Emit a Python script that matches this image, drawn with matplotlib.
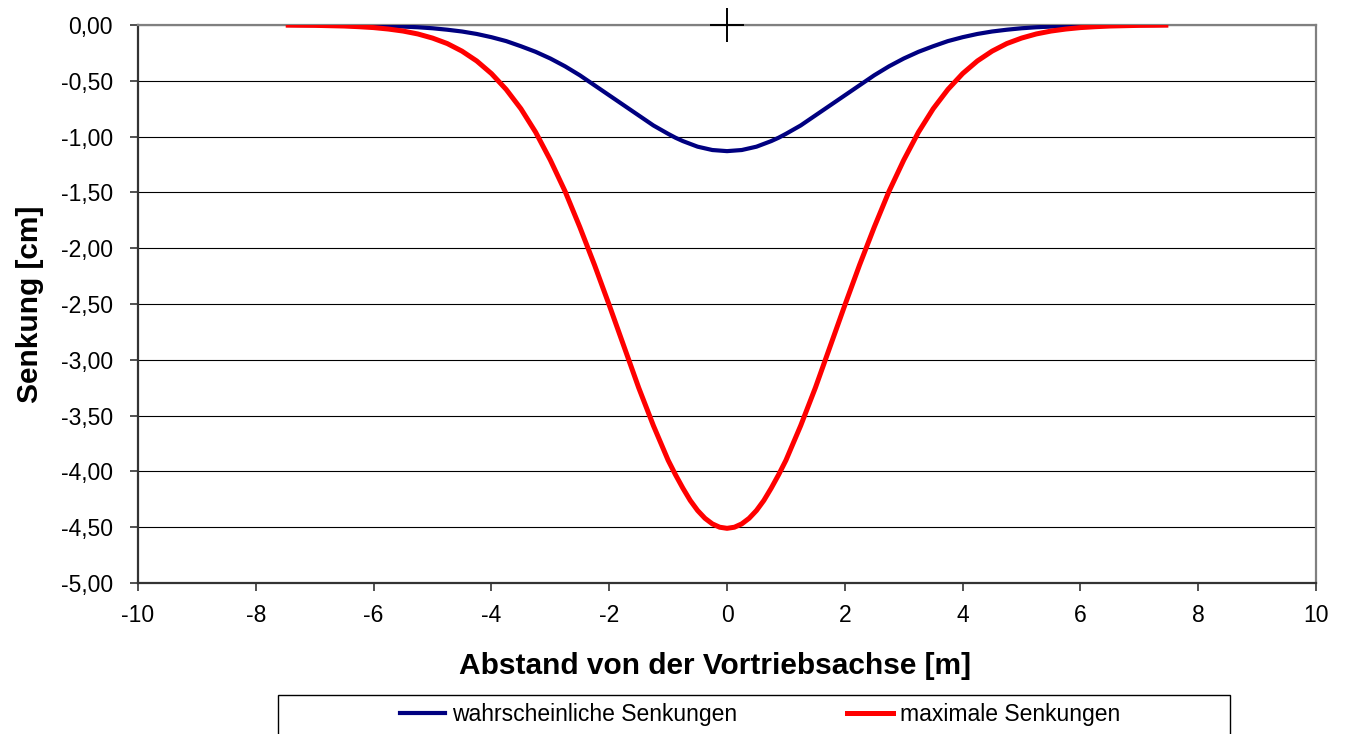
import matplotlib
matplotlib.use("Agg")
import matplotlib.pyplot as plt
from matplotlib.ticker import FuncFormatter
from matplotlib.patches import Rectangle

plt.rcParams['font.family'] = ['Liberation Sans', 'DejaVu Sans']
plt.rcParams['axes.unicode_minus'] = False

# distance from the tunnel axis [m]
abstand = [-7.45, -7.25, -7.0, -6.75, -6.5, -6.25, -6.0, -5.75, -5.5, -5.25,
           -5.0, -4.75, -4.5, -4.25, -4.0, -3.75, -3.5, -3.25, -3.0, -2.75,
           -2.5, -2.25, -2.0, -1.75, -1.5, -1.25, -1.0, -0.875, -0.75, -0.625,
           -0.5, -0.375, -0.25, -0.125, 0.0, 0.125, 0.25, 0.375, 0.5, 0.625,
           0.75, 0.875, 1.0, 1.25, 1.5, 1.75, 2.0, 2.25,
           2.5, 2.75, 3.0, 3.25, 3.5, 3.75, 4.0, 4.25, 4.5, 4.75,
           5.0, 5.25, 5.5, 5.75, 6.0, 6.25, 6.5, 6.75, 7.0, 7.25, 7.45]

# probable settlements [cm]
wahrscheinlich = [0.0, -0.0005, -0.001, -0.0015, -0.002, -0.004, -0.006, -0.009, -0.014, -0.020,
                  -0.029, -0.042, -0.058, -0.080, -0.109, -0.144, -0.19, -0.24, -0.30, -0.37,
                  -0.45, -0.54, -0.63, -0.72, -0.81, -0.90, -0.975, -1.01, -1.04, -1.065,
                  -1.09, -1.105, -1.12, -1.125, -1.13, -1.125, -1.12, -1.105, -1.09, -1.065,
                  -1.04, -1.01, -0.975, -0.90, -0.81, -0.72, -0.63, -0.54,
                  -0.45, -0.37, -0.30, -0.24, -0.19, -0.144, -0.109, -0.080, -0.058, -0.042,
                  -0.029, -0.020, -0.014, -0.009, -0.006, -0.004, -0.002, -0.0015, -0.001, -0.0005, 0.0]

# maximum settlements [cm]
maximal = [-0.001, -0.002, -0.003, -0.006, -0.009, -0.015, -0.023, -0.036, -0.054, -0.080,
           -0.117, -0.166, -0.234, -0.322, -0.435, -0.577, -0.75, -0.96, -1.21, -1.49,
           -1.81, -2.15, -2.51, -2.88, -3.25, -3.59, -3.90, -4.03, -4.15, -4.26,
           -4.35, -4.42, -4.47, -4.50, -4.51, -4.50, -4.47, -4.42, -4.35, -4.26,
           -4.15, -4.03, -3.90, -3.59, -3.25, -2.88, -2.51, -2.15,
           -1.81, -1.49, -1.21, -0.96, -0.75, -0.577, -0.435, -0.322, -0.234, -0.166,
           -0.117, -0.080, -0.054, -0.036, -0.023, -0.015, -0.009, -0.006, -0.003, -0.002, -0.001]

fig = plt.figure(figsize=(13.48, 7.34), dpi=100)
ax = fig.add_axes([0.1024, 0.2057, 0.8739, 0.7602])

ax.plot(abstand, wahrscheinlich, color='#000080', lw=3.0, label='wahrscheinliche Senkungen',
        solid_joinstyle='round', zorder=3)
ax.plot(abstand, maximal, color='#FF0000', lw=3.6, label='maximale Senkungen',
        solid_joinstyle='round', zorder=4)
# axis cross marker at the origin
ax.plot([0], [0], marker='+', ms=24, mew=1.4, color='black', ls='none', zorder=5, clip_on=False)

ax.set_xlim(-10, 10)
ax.set_ylim(-5, 0)
ax.set_xticks(range(-10, 11, 2))
ax.set_yticks([-5 + 0.5 * k for k in range(11)])
ax.yaxis.set_major_formatter(FuncFormatter(lambda v, p: f"{v:.2f}".replace('.', ',')))
ax.grid(axis='y', color='black', lw=0.8)
ax.set_axisbelow(True)

for s in ['top', 'right']:
    ax.spines[s].set_color('#808080')
    ax.spines[s].set_linewidth(1.6)
for s in ['left', 'bottom']:
    ax.spines[s].set_color('#333333')
    ax.spines[s].set_linewidth(1.6)
ax.tick_params(axis='both', direction='out', length=6, width=1.2, color='#333333',
               labelsize=16.5)
ax.tick_params(axis='y', pad=12)
ax.tick_params(axis='x', pad=9)

ax.set_xlabel('Abstand von der Vortriebsachse [m]', fontsize=21.5, fontweight='bold')
ax.xaxis.set_label_coords(0.49, -0.123)
ax.set_ylabel('Senkung [cm]', fontsize=21.5, fontweight='bold', labelpad=12)

# legend frame (cut off by the figure edge like in the original)
fig.patches.append(Rectangle((278 / 1348, -0.02), 952 / 1348, 0.0731,
                             transform=fig.transFigure, fill=False,
                             edgecolor='black', lw=1.0))
leg = fig.legend(loc='center', bbox_to_anchor=(760 / 1348, 1 - 715 / 734),
                 ncol=2, fontsize=16.5, frameon=False, handlelength=2.0,
                 handletextpad=0.3, columnspacing=4.8, borderpad=0)

fig.savefig('out.png', dpi=100)
